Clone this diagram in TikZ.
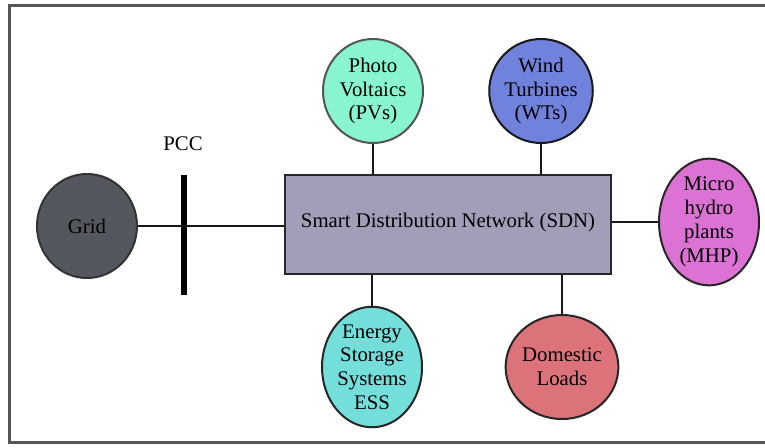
\documentclass[tikz,border=0pt]{standalone}
\usepackage{fontspec}
\setmainfont{Liberation Serif}
\newfontfamily\diagfont{Liberation Serif}
\usetikzlibrary{shapes.geometric}
\definecolor{frameC}{HTML}{555555}
\definecolor{gridC}{HTML}{54575D}
\definecolor{pvC}{HTML}{88F5D0}
\definecolor{wtC}{HTML}{7182DC}
\definecolor{mhpC}{HTML}{DC72D4}
\definecolor{essC}{HTML}{74DFDA}
\definecolor{dlC}{HTML}{DC737B}
\definecolor{sdnC}{HTML}{A39DB7}
\tikzset{
  txt/.style={font=\diagfont\fontsize{20.8}{23.8}\selectfont},
  src/.style={ellipse, draw=black!85, line width=2pt, minimum width=100pt, minimum height=104pt, inner sep=0pt, align=center, txt},
  link/.style={line width=1.8pt, black!90},
}
\begin{document}
\begin{tikzpicture}[x=1pt,y=-1pt]
\useasboundingbox (0,0) rectangle (765,447);
\draw[frameC, line width=3pt] (766,5) -- (9,5) -- (9,442) -- (766,442);
% nodes
\node[src, fill=gridC, draw=black!80] (grid) at (87,226) {Grid};
\node[txt] (pcclabel) at (183,144) {PCC};
\coordinate (pcctop) at (184,175);
\coordinate (pccbot) at (184,295);
\draw[line width=6pt] (pcctop) -- (pccbot);
\node[draw=black!85, line width=2pt, fill=sdnC, minimum width=326pt, minimum height=99pt, inner sep=0pt, txt] (sdn) at (448,224) {\raisebox{8pt}{Smart Distribution Network (SDN)}};
\node[src, fill=pvC, draw=frameC] (pv) at (373,91) {Photo\\Voltaics\\(PVs)};
\node[src, fill=wtC, draw=black!90] (wt) at (541,91) {Wind\\Turbines\\(WTs)};
\node[src, fill=mhpC] (mhp) at (709,222) {Micro\\hydro\\plants\\(MHP)};
\node[src, fill=essC] (ess) at (372,367) {Energy\\Storage\\Systems\\ESS};
\node[src, fill=dlC] (dl) at (562,367) {Domestic\\Loads};
% connectors
\draw[link] (grid.east) -- (grid.east -| sdn.west);
\draw[link] (pv.south) -- (pv.south |- sdn.north);
\draw[link] (wt.south) -- (wt.south |- sdn.north);
\draw[link] (sdn.east |- mhp.west) -- (mhp.west);
\draw[link] (ess.north |- sdn.south) -- (ess.north);
\draw[link] (dl.north |- sdn.south) -- (dl.north);
\end{tikzpicture}
\end{document}
